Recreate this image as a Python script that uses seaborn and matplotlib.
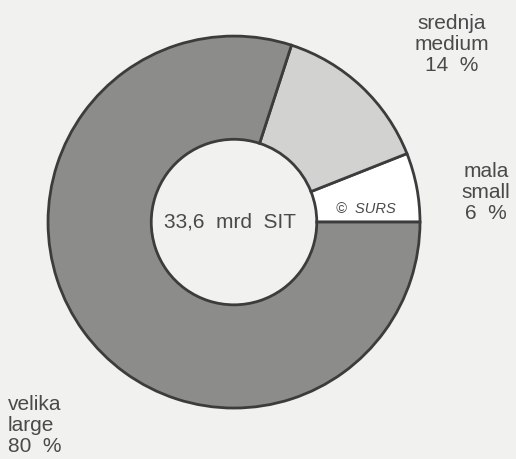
import seaborn as sns
import matplotlib.pyplot as plt

sns.set_theme(style="white")
plt.rcParams['font.family'] = ['Liberation Sans', 'DejaVu Sans']

# shares of enterprises by size
labels_sl = ['mala', 'srednja', 'velika']
labels_en = ['small', 'medium', 'large']
shares = [6, 14, 80]
colors = ['#ffffff', '#d2d2d0', '#8c8c8a']
total_label = '33,6  mrd  SIT'

fig = plt.figure(figsize=(5.16, 4.59), dpi=100, facecolor='#f1f1ef')
ax = fig.add_axes([0, 0, 1, 1])
ax.set_facecolor('#f1f1ef')

ax.pie(shares, colors=colors, startangle=0, counterclock=True, radius=1,
       wedgeprops=dict(width=0.555, edgecolor='#3c3c3c', linewidth=2))

ax.set_xlim(-1.258, 1.516)
ax.set_ylim(-1.274, 1.194)
ax.set_aspect('equal')
ax.axis('off')

txt = dict(color='#4a4a4a', fontsize=15)
ax.text(-0.02, 0, total_label, ha='center', va='center', **txt)
ax.text(0.71, 0.07, '©  SURS', ha='center', va='center', style='italic',
        color='#4a4a4a', fontsize=10.5)

pos = {'mala': (1.355, 0.16, 'center'),
       'srednja': (1.17, 0.955, 'center'),
       'velika': (-1.215, -1.095, 'left')}
for sl, en, v in zip(labels_sl, labels_en, shares):
    x, y, ha = pos[sl]
    ax.text(x, y, f'{sl}\n{en}\n{v}  %', ha=ha, va='center',
            linespacing=1.15, **txt)

fig.savefig('out.png', dpi=100, facecolor=fig.get_facecolor())
